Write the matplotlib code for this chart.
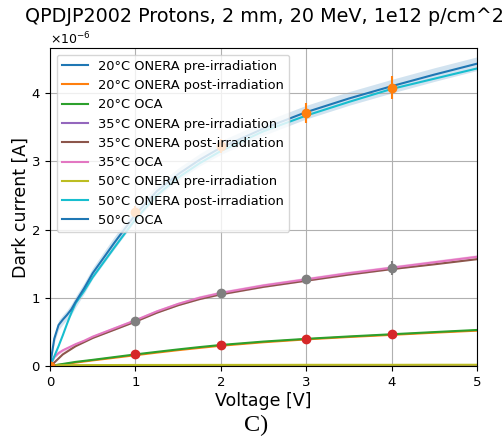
import numpy as np
import matplotlib
matplotlib.use("Agg")
import matplotlib.pyplot as plt

# ---------------- data (dark current in units of 1e-6 A) ----------------
voltage = [0.0, 0.05, 0.1, 0.15, 0.2, 0.25, 0.3, 0.4, 0.5, 0.75, 1.0, 1.25, 1.5,
           1.75, 2.0, 2.5, 3.0, 3.5, 4.0, 4.5, 5.0]

t20_onera_pre  = [0.0, 0.001, 0.001, 0.001, 0.001, 0.001, 0.001, 0.002, 0.002, 0.002, 0.002,
                  0.002, 0.002, 0.002, 0.003, 0.003, 0.003, 0.003, 0.003, 0.003, 0.003]
t20_onera_post = [0.0, 0.008, 0.016, 0.024, 0.032, 0.042, 0.05, 0.066, 0.082, 0.12, 0.158,
                  0.196, 0.232, 0.265, 0.297, 0.348, 0.39, 0.425, 0.456, 0.488, 0.518]
t20_oca        = [0.0, 0.01, 0.02, 0.03, 0.04, 0.05, 0.06, 0.075, 0.09, 0.13, 0.17,
                  0.207, 0.243, 0.277, 0.308, 0.358, 0.398, 0.433, 0.465, 0.497, 0.528]

t35_onera_pre  = [0.0, 0.002, 0.003, 0.003, 0.004, 0.004, 0.004, 0.005, 0.005, 0.005, 0.006,
                  0.006, 0.006, 0.006, 0.007, 0.007, 0.007, 0.007, 0.008, 0.008, 0.008]
t35_onera_post = [0.0, 0.05, 0.11, 0.17, 0.21, 0.25, 0.29, 0.35, 0.41, 0.53, 0.65,
                  0.78, 0.89, 0.98, 1.05, 1.16, 1.25, 1.34, 1.42, 1.49, 1.565]
t35_oca        = [0.0, 0.13, 0.19, 0.23, 0.26, 0.29, 0.32, 0.37, 0.43, 0.55, 0.67,
                  0.8, 0.91, 1.0, 1.07, 1.18, 1.27, 1.36, 1.44, 1.52, 1.6]

t50_onera_pre  = [0.0, 0.008, 0.01, 0.011, 0.012, 0.012, 0.013, 0.013, 0.014, 0.014, 0.015,
                  0.015, 0.015, 0.016, 0.016, 0.016, 0.017, 0.017, 0.017, 0.018, 0.018]
t50_onera_post = [0.0, 0.14, 0.29, 0.45, 0.62, 0.78, 0.92, 1.1, 1.3, 1.73, 2.15,
                  2.5, 2.76, 2.97, 3.15, 3.44, 3.67, 3.87, 4.06, 4.21, 4.36]
t50_oca        = [0.0, 0.4, 0.6, 0.68, 0.75, 0.83, 0.94, 1.14, 1.36, 1.8, 2.22,
                  2.56, 2.81, 3.02, 3.2, 3.48, 3.72, 3.92, 4.1, 4.27, 4.43]

oca35_err = [0.0, 0.02, 0.02, 0.02, 0.02, 0.02, 0.02, 0.02, 0.02, 0.025, 0.025,
             0.025, 0.025, 0.03, 0.03, 0.03, 0.03, 0.03, 0.03, 0.03, 0.03]
oca50_err = [0.0, 0.06, 0.07, 0.07, 0.07, 0.08, 0.08, 0.08, 0.08, 0.09, 0.09,
             0.09, 0.09, 0.09, 0.1, 0.1, 0.1, 0.1, 0.1, 0.1, 0.1]

meas_voltage = [0, 1, 2, 3, 4]
meas20 = [0.0, 0.17, 0.31, 0.396, 0.465]
meas20_err = [0.0, 0.01, 0.012, 0.015, 0.018]
meas35 = [0.0, 0.665, 1.066, 1.27, 1.44]
meas35_err = [0.0, 0.03, 0.04, 0.065, 0.1]
meas50 = [0.0, 2.26, 3.22, 3.71, 4.08]
meas50_err = [0.0, 0.08, 0.1, 0.147, 0.165]

labels = ["20°C ONERA pre-irradiation", "20°C ONERA post-irradiation", "20°C OCA",
          "35°C ONERA pre-irradiation", "35°C ONERA post-irradiation", "35°C OCA",
          "50°C ONERA pre-irradiation", "50°C ONERA post-irradiation", "50°C OCA"]

title = "QPDJP2002 Protons, 2 mm, 20 MeV, 1e12 p/cm^2"

# ---------------- plot ----------------
scale = 1e-6
V = np.array(voltage)

def s(a):
    return np.array(a) * scale

fig = plt.figure(figsize=(5.03, 4.43), dpi=100)
ax = fig.add_axes([50 / 503, 1 - 366 / 443, 427 / 503, 318 / 443])

ax.fill_between(V, s(t50_oca) - s(oca50_err), s(t50_oca) + s(oca50_err),
                color="#1f77b4", alpha=0.2, lw=0)
ax.fill_between(V, s(t35_oca) - s(oca35_err), s(t35_oca) + s(oca35_err),
                color="#e377c2", alpha=0.35, lw=0)

ax.plot(V, s(t20_onera_pre), color="C0", label=labels[0])
ax.plot(V, s(t20_onera_post), color="C1", label=labels[1])
ax.plot(V, s(t20_oca), color="C2", label=labels[2])
ax.errorbar(meas_voltage, s(meas20), yerr=s(meas20_err), fmt="o", color="C3")

ax.plot(V, s(t35_onera_pre), color="C4", label=labels[3])
ax.plot(V, s(t35_onera_post), color="C5", label=labels[4])
ax.plot(V, s(t35_oca), color="C6", label=labels[5])
ax.errorbar(meas_voltage, s(meas35), yerr=s(meas35_err), fmt="o", color="C7")

ax.plot(V, s(t50_onera_pre), color="C8", label=labels[6])
ax.plot(V, s(t50_onera_post), color="C9", label=labels[7])
ax.plot(V, s(t50_oca), color="C0", label=labels[8])
ax.errorbar(meas_voltage, s(meas50), yerr=s(meas50_err), fmt="o", color="C1")

ax.set_xlim(0, 5)
ax.set_ylim(0, 4.66e-6)
ax.grid(True)
ax.ticklabel_format(axis="y", style="sci", scilimits=(0, 0), useMathText=True)
ax.tick_params(labelsize=9.5)
ax.yaxis.get_offset_text().set_fontsize(9)

ax.set_xlabel("Voltage [V]", fontsize=12.5, labelpad=2)
ax.set_ylabel("Dark current [A]", fontsize=12.5, labelpad=1)
fig.text(264 / 503, 1 - 17 / 443, title, fontsize=13.8, ha="center", va="center")
ax.legend(loc="upper left", fontsize=9.4, labelspacing=0.48)

fig.text(0.51, 1 - 425 / 443, "C)", family="Liberation Serif", fontsize=17.5,
         ha="center", va="center")

fig.savefig("out.png", dpi=100)
